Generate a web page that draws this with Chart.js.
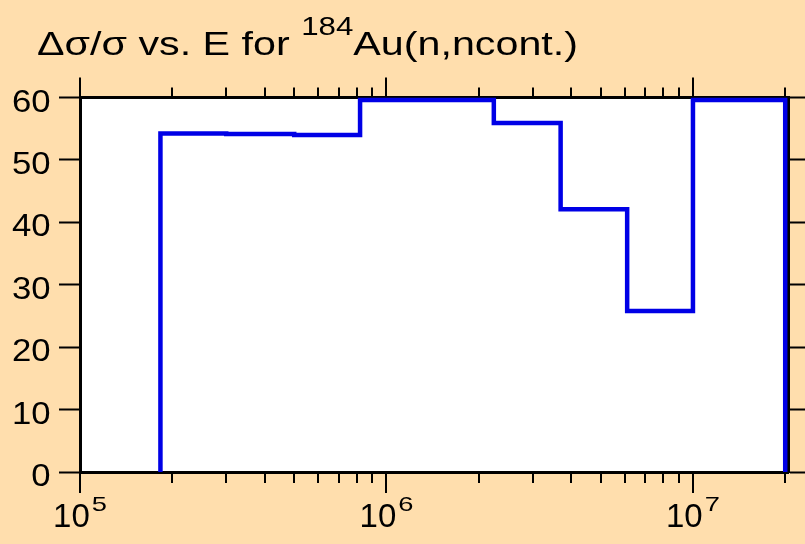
<!DOCTYPE html>
<html>
<head>
<meta charset="utf-8">
<script src="https://cdn.jsdelivr.net/npm/chart.js@4.4.1/dist/chart.umd.min.js"></script>
<style>
  html, body { margin: 0; padding: 0; background: #FFDEAD; }
  #marco { position: relative; width: 805px; height: 544px; overflow: hidden; }
  #titulo {
    position: absolute; left: 37px; top: 27px;
    font-family: "Liberation Sans", Arial, sans-serif; font-size: 33px; line-height: 33px;
    color: #000; white-space: nowrap; transform-origin: 0 0; transform: scaleX(1.25);
  }
  #titulo sup { font-size: 25px; line-height: 0; vertical-align: baseline; position: relative; top: -20px; }
  canvas { position: absolute; left: 0; top: 0; }
</style>
</head>
<body>
<div id="marco">
  <canvas id="grafico" width="805" height="544"></canvas>
  <div id="titulo">Δσ/σ vs. E for <sup>184</sup>Au(n,ncont.)</div>
</div>
<script>
// bordes de los grupos de energía (eV) y Δσ/σ (%) en cada grupo
const bordes = [1.83e5, 3.0e5, 5.0e5, 8.2e5, 2.24e6, 3.7e6, 6.1e6, 1.0e7, 2.0e7];
const valores = [54.25, 54.15, 54.0, 59.6, 55.9, 42.1, 25.8, 59.6];
// marcas de los ejes
const marcasY = [0, 10, 20, 30, 40, 50, 60];
const decadas = [1e5, 1e6, 1e7];
const mantisas = [1, 2, 3, 4, 5, 6, 7, 8, 9];
const limitesX = [1e5, 2.05e7];

//Armo los puntos del histograma: sube en el primer borde, baja en el ultimo
const puntos = [{ x: bordes[0], y: 0 }];
valores.forEach((v, i) => {
    puntos.push({ x: bordes[i], y: v });
});
puntos.push({ x: bordes[bordes.length - 1], y: 0 });

const fuente = '"Liberation Sans", Arial, sans-serif';

//Texto estirado a lo ancho, como en la figura original
function texto(ctx, s, x, y, size, estirar, align) {
    ctx.save();
    ctx.font = size + "px " + fuente;
    ctx.textAlign = align;
    ctx.translate(x, y);
    ctx.scale(estirar, 1);
    ctx.fillText(s, 0, 0);
    ctx.restore();
}

//Plugin para las marcas log (largas y cortas) y las etiquetas
const marcasLog = {
    id: "marcasLog",
    afterDraw(chart) {
        const ctx = chart.ctx;
        const area = chart.chartArea;
        const sx = chart.scales.x;
        const sy = chart.scales.y;
        ctx.save();
        ctx.strokeStyle = "#000";
        ctx.lineWidth = 2;
        decadas.forEach((d) => {
            mantisas.forEach((m) => {
                const v = m * d;
                if (v < limitesX[0] || v > limitesX[1]) return;
                const px = Math.round(sx.getPixelForValue(v));
                const largo = m === 1 ? 21 : 11;
                ctx.beginPath();
                ctx.moveTo(px, area.bottom + 1);
                ctx.lineTo(px, area.bottom + largo);
                ctx.moveTo(px, area.top - 1);
                ctx.lineTo(px, area.top - largo + 1);
                ctx.stroke();
            });
        });
        ctx.fillStyle = "#000";
        ctx.textBaseline = "alphabetic";
        //etiquetas 10^n
        decadas.forEach((d) => {
            const px = sx.getPixelForValue(d);
            const exp = String(Math.round(Math.log10(d)));
            ctx.font = "33px " + fuente;
            const w1 = ctx.measureText("10").width;
            ctx.font = "21px " + fuente;
            const w2 = ctx.measureText(exp).width * 1.3;
            const x0 = px - (w1 + w2 + 2) / 2;
            texto(ctx, "10", x0, 527, 33, 1, "left");
            texto(ctx, exp, x0 + w1 + 2, 511, 21, 1.3, "left");
        });
        //etiquetas del eje y
        marcasY.forEach((v) => {
            const py = sy.getPixelForValue(v);
            texto(ctx, String(v), 50.5, py + 14, 31, 1.12, "right");
        });
        ctx.restore();
    }
};

new Chart(document.getElementById("grafico").getContext("2d"), {
    type: "line",
    data: {
        datasets: [
            {
                data: puntos,
                borderColor: "#0000E6",
                borderWidth: 4.5,
                stepped: "before",
                pointRadius: 0,
                fill: false,
                clip: 4
            }
        ]
    },
    options: {
        responsive: false,
        animation: false,
        devicePixelRatio: 1,
        layout: { padding: 0 },
        plugins: {
            legend: { display: false },
            title: { display: false },
            tooltip: { enabled: false }
        },
        scales: {
            x: {
                type: "logarithmic",
                position: "bottom",
                min: limitesX[0],
                max: limitesX[1],
                z: 1,
                grid: { display: false },
                border: { display: true, color: "#000", width: 3 },
                ticks: { display: false },
                afterFit: (s) => { s.height = 72; }
            },
            x2: {
                type: "logarithmic",
                position: "top",
                min: limitesX[0],
                max: limitesX[1],
                z: 1,
                grid: { display: false },
                border: { display: true, color: "#000", width: 3 },
                ticks: { display: false },
                afterFit: (s) => { s.height = 97.5; }
            },
            y: {
                position: "left",
                min: 0,
                max: 60,
                z: 1,
                afterBuildTicks: (s) => { s.ticks = marcasY.map((v) => ({ value: v })); },
                grid: { drawOnChartArea: false, drawTicks: true, tickLength: 21, tickColor: "#000", tickWidth: 2 },
                border: { display: true, color: "#000", width: 3 },
                ticks: { display: false },
                afterFit: (s) => { s.width = 80; }
            },
            y2: {
                position: "right",
                min: 0,
                max: 60,
                z: 1,
                afterBuildTicks: (s) => { s.ticks = marcasY.map((v) => ({ value: v })); },
                grid: { drawOnChartArea: false, drawTicks: true, tickLength: 17, tickColor: "#000", tickWidth: 2 },
                border: { display: true, color: "#000", width: 3 },
                ticks: { display: false },
                afterFit: (s) => { s.width = 16.5; }
            }
        }
    },
    plugins: [
        {
            id: "fondoArea",
            beforeDraw(chart) {
                const a = chart.chartArea;
                chart.ctx.save();
                chart.ctx.fillStyle = "#FFFFFF";
                chart.ctx.fillRect(a.left, a.top, a.right - a.left, a.bottom - a.top);
                chart.ctx.restore();
            }
        },
        marcasLog
    ]
});
</script>
</body>
</html>
